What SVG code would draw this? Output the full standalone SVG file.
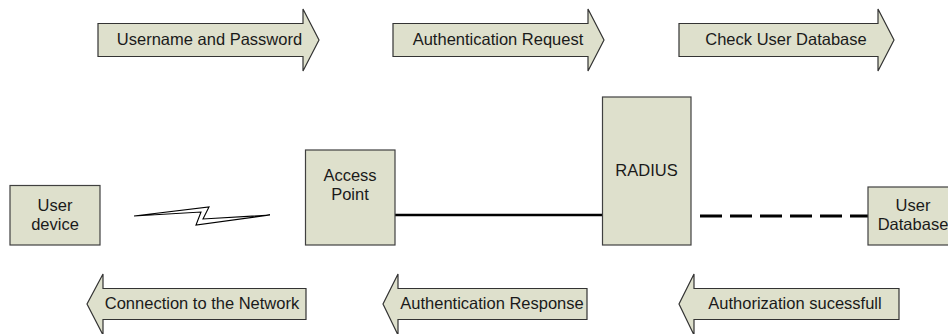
<svg xmlns="http://www.w3.org/2000/svg" width="948" height="334" viewBox="0 0 948 334">
  <style>
    .box { fill: #DEE0CC; stroke: #404040; stroke-width: 1.2; }
    .flow { fill: #DEE0CC; stroke: #333333; stroke-width: 1.2; stroke-linejoin: miter; }
    .label { font-family: "Liberation Sans", Arial, sans-serif; font-size: 16.5px; fill: #1a1a1a; text-anchor: middle; }
    .wire { stroke: #000000; stroke-width: 2.5; fill: none; }
    .dash { stroke: #000000; stroke-width: 3; fill: none; stroke-dasharray: 22 8; }
    .bolt { fill: #ffffff; stroke: #000000; stroke-width: 1.1; stroke-linejoin: miter; }
  </style>

  <rect width="948" height="334" fill="#ffffff"/>

  <!-- message flow arrows, top row (left to right) -->
  <g id="msg-username-password">
    <polygon class="flow" points="98,23.5 303,23.5 303,9 319,40 303,71 303,56.5 98,56.5"/>
    <text class="label" x="209.5" y="45">Username and Password</text>
  </g>
  <g id="msg-auth-request">
    <polygon class="flow" points="393,23.5 588,23.5 588,9 604,40 588,71 588,56.5 393,56.5"/>
    <text class="label" x="498" y="45">Authentication Request</text>
  </g>
  <g id="msg-check-db">
    <polygon class="flow" points="679,23.5 878,23.5 878,9 894,40 878,71 878,56.5 679,56.5"/>
    <text class="label" x="786" y="45">Check User Database</text>
  </g>

  <!-- message flow arrows, bottom row (right to left) -->
  <g id="msg-connection">
    <polygon class="flow" points="306,288.5 103,288.5 103,274 87,304 103,335 103,319.5 306,319.5"/>
    <text class="label" x="202" y="309">Connection to the Network</text>
  </g>
  <g id="msg-auth-response">
    <polygon class="flow" points="587,288.5 398,288.5 398,274 383,304 398,335 398,319.5 587,319.5"/>
    <text class="label" x="492" y="309">Authentication Response</text>
  </g>
  <g id="msg-authorization">
    <polygon class="flow" points="899,288.5 694,288.5 694,274 679,304 694,335 694,319.5 899,319.5"/>
    <text class="label" x="795" y="309">Authorization sucessfull</text>
  </g>

  <!-- links between the devices -->
  <g id="connectors">
    <polygon class="bolt" points="134,216 209,207 203,219 270,215 196,225 201,212"/>
    <line class="wire" x1="395" y1="215" x2="602.5" y2="215"/>
    <line class="dash" x1="700" y1="216" x2="868" y2="216"/>
  </g>

  <!-- devices -->
  <g id="user-device">
    <rect class="box" x="10" y="185.5" width="90" height="59.5"/>
    <text class="label" x="55" y="211">User</text>
    <text class="label" x="55" y="230">device</text>
  </g>
  <g id="access-point">
    <rect class="box" x="305.5" y="150" width="89.5" height="95"/>
    <text class="label" x="350" y="181">Access</text>
    <text class="label" x="350" y="200">Point</text>
  </g>
  <g id="radius">
    <rect class="box" x="602.5" y="97" width="88.5" height="148"/>
    <text class="label" x="646.5" y="176">RADIUS</text>
  </g>
  <g id="user-database">
    <rect class="box" x="868" y="187" width="90" height="58"/>
    <text class="label" x="913" y="211">User</text>
    <text class="label" x="913" y="230">Database</text>
  </g>
</svg>
